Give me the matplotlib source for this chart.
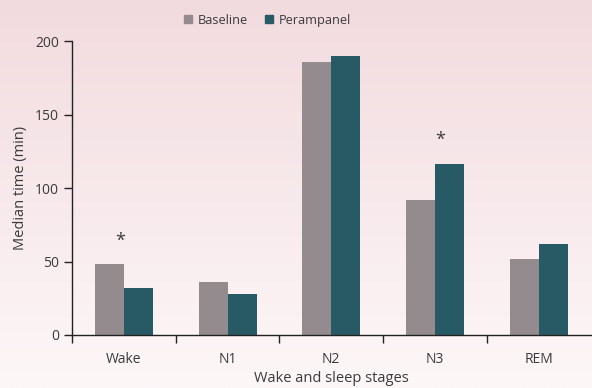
import numpy as np
import matplotlib.pyplot as plt
from matplotlib.patches import Patch

# median minutes spent in each stage
stages = ["Wake", "N1", "N2", "N3", "REM"]
baseline = [48, 36, 186, 92, 52]
perampanel = [32, 28, 190, 116, 62]

# significant differences (stage index, marker height)
sig_stages = [0, 3]
sig_heights = [64, 133]

base_col = "#938b8e"
peram_col = "#285a66"
text_col = "#3a3a3a"

plt.rcParams["font.family"] = ["Open Sans", "DejaVu Sans"]

fig = plt.figure(figsize=(5.92, 3.88), dpi=100)

# soft pink-to-white background
bg = fig.add_axes([0, 0, 1, 1], zorder=-1)
grad = np.linspace(0, 1, 256).reshape(-1, 1)
top = np.array([242, 219, 223]) / 255
bottom = np.array([253, 247, 248]) / 255
img = top + (bottom - top) * grad[..., None]
bg.imshow(img, aspect="auto", extent=[0, 1, 0, 1])
bg.axis("off")

ax = fig.add_axes([0.1216, 0.1366, 0.876, 0.7577])
ax.patch.set_alpha(0)

index = np.arange(len(stages))
bar_width = 0.28

ax.bar(index - bar_width / 2, baseline, bar_width, color=base_col)
ax.bar(index + bar_width / 2, perampanel, bar_width, color=peram_col)

for i, h in zip(sig_stages, sig_heights):
    ax.text(i + (-0.04 if i == 0 else 0.05), h, "*", ha="center", va="center",
            fontsize=13, color=text_col)

ax.set_xlim(-0.5, 4.5)
ax.set_ylim(0, 200)
ax.set_yticks([0, 50, 100, 150, 200])
ax.set_xticks(index - 0.5, minor=False)
ax.set_xticklabels([])
ax.set_xticks(index, minor=True)
ax.set_xticklabels(stages, minor=True)
ax.tick_params(axis="x", which="minor", length=0, pad=12, labelsize=10, labelcolor=text_col)
ax.tick_params(axis="x", which="major", length=6, width=1, color="#222222")
ax.tick_params(axis="y", length=6, width=1, color="#222222", labelsize=10, labelcolor=text_col)

for s in ["top", "right"]:
    ax.spines[s].set_visible(False)
for s in ["left", "bottom"]:
    ax.spines[s].set_color("#222222")
    ax.spines[s].set_linewidth(1)

ax.set_ylabel("Median time (min)", fontsize=10.5, color=text_col, labelpad=5)
ax.set_xlabel("Wake and sleep stages", fontsize=10.5, color=text_col, labelpad=3)

handles = [Patch(color=base_col, label="Baseline"), Patch(color=peram_col, label="Perampanel")]
fig.legend(handles=handles, loc="center", bbox_to_anchor=(0.452, 0.948), ncol=2, frameon=False,
           handlelength=0.65, handleheight=0.65, handletextpad=0.45, columnspacing=1.3,
           fontsize=9.2, labelcolor=text_col)

fig.savefig("out.png", dpi=100)
